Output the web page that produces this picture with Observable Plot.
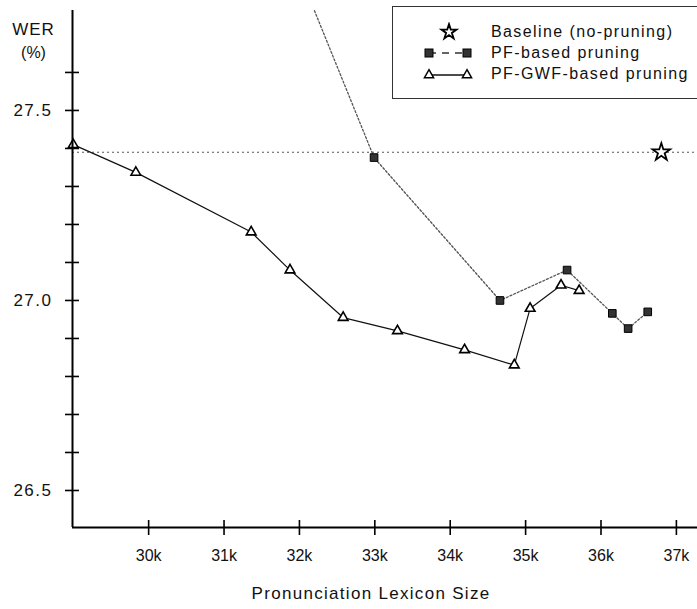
<!DOCTYPE html>
<html>
<head>
<meta charset="utf-8">
<script src="https://cdn.jsdelivr.net/npm/d3@7"></script>
<script src="https://cdn.jsdelivr.net/npm/@observablehq/plot@0.6"></script>
<style>
  html, body { margin: 0; padding: 0; background: #fff; }
  #wrap { position: relative; width: 697px; height: 609px; font-family: "Liberation Sans", Arial, sans-serif; }
  #legend { position: absolute; left: 392px; top: 6px; width: 320px; height: 93px; border: 1px solid #333; border-right: none; background: #fff; box-sizing: border-box; }
  .row { position: absolute; left: 0; height: 20px; }
  .row svg { position: absolute; left: 0; top: 0; }
  .row span { position: absolute; left: 98px; top: 1px; font-size: 16px; letter-spacing: 1.4px; white-space: nowrap; color: #111; }
</style>
</head>
<body>
<div id="wrap"></div>
<script>
// ---- data ----
const lexiconTicks = [30000, 31000, 32000, 33000, 34000, 35000, 36000, 37000];
const werTicks = [26.5, 26.6, 26.7, 26.8, 26.9, 27.0, 27.1, 27.2, 27.3, 27.4, 27.5, 27.6];
const werLabels = [26.5, 27.0, 27.5];

const baselineSize = [36800];
const baselineWER = [27.39];

const pfSize = [32000, 32990, 34660, 35550, 36150, 36360, 36620];
const pfWER  = [27.86, 27.376, 27.0, 27.08, 26.966, 26.926, 26.97];

const gwfSize = [29000, 29830, 31360, 31875, 32580, 33300, 34190, 34850, 35060, 35470, 35710];
const gwfWER  = [27.41, 27.337, 27.18, 27.08, 26.955, 26.92, 26.87, 26.83, 26.979, 27.04, 27.026];

const legendLabels = ["Baseline (no-pruning)", "PF-based pruning", "PF-GWF-based pruning"];

// ---- build tables ----
const pf = pfSize.map((x, i) => ({x, y: pfWER[i]}));
const gwf = gwfSize.map((x, i) => ({x, y: gwfWER[i]}));
const base = baselineSize.map((x, i) => ({x, y: baselineWER[i]}));

const xMin = 28990, xMax = 37280, yMin = 26.4026, yMax = 27.763;

const chart = Plot.plot({
  width: 697,
  height: 609,
  marginLeft: 72,
  marginRight: 0,
  marginTop: 10,
  marginBottom: 82,
  style: { fontFamily: "Liberation Sans, Arial, sans-serif", fontSize: "16px", color: "#111", background: "white", overflow: "visible" },
  x: { domain: [xMin, xMax] },
  y: { domain: [yMin, yMax] },
  marks: [
    Plot.ruleY(baselineWER, { stroke: "#555", strokeWidth: 1.2, strokeDasharray: "2,3" }),
    Plot.line(pf, { x: "x", y: "y", stroke: "#555", strokeWidth: 1.3, strokeDasharray: "2,2", clip: true }),
    Plot.line(gwf, { x: "x", y: "y", stroke: "#111", strokeWidth: 1.2, clip: true }),
    Plot.dot(pf, { x: "x", y: "y", symbol: "square", r: 4.3, fill: "#333", stroke: "#000", strokeWidth: 1, clip: true }),
    Plot.dot(gwf, { x: "x", y: "y", symbol: "triangle", r: 3.6, fill: "white", stroke: "#000", strokeWidth: 1.6 }),
    Plot.dot(base, { x: "x", y: "y", symbol: "star", r: 5.5, fill: "white", stroke: "#000", strokeWidth: 1.8 }),
    Plot.ruleX([xMin], { stroke: "#000", strokeWidth: 2 }),
    Plot.ruleY([yMin], { stroke: "#000", strokeWidth: 2 }),
    Plot.axisY(werTicks, { tickSize: 14, dx: 7, text: null, stroke: "#000", strokeWidth: 1.6, label: null }),
    Plot.axisY(werLabels, { tickSize: 0, tickPadding: 20, tickFormat: d3.format(".1f"), fontSize: 17, fill: "#111", label: null }),
    Plot.axisX(lexiconTicks, { tickSize: 15, dy: -7, text: null, stroke: "#000", strokeWidth: 1.6, label: null }),
    Plot.axisX(lexiconTicks, { tickSize: 0, tickPadding: 22, tickFormat: d => d / 1000 + "k", fontSize: 16, fill: "#111", label: null }),
    Plot.text(["WER"], { text: d => d, frameAnchor: "top-left", textAnchor: "middle", dx: -39, dy: 12, fontSize: 17, fill: "#111" }),
    Plot.text(["(%)"], { text: d => d, frameAnchor: "top-left", textAnchor: "middle", dx: -39, dy: 36, fontSize: 16, fill: "#111" }),
    Plot.text(["Pronunciation Lexicon Size"], { text: d => d, frameAnchor: "bottom", dx: -14, dy: 71, fontSize: 17, fill: "#111" })
  ]
});

// letter spacing to mimic the wide original typeface
d3.select(chart).selectAll("text").each(function () {
  const t = this.textContent;
  if (t === "Pronunciation Lexicon Size") this.setAttribute("letter-spacing", "1.3");
  else if (/^\d\d\.\d$/.test(t)) this.setAttribute("letter-spacing", "1.5");
  else if (t === "WER") this.setAttribute("letter-spacing", "1");
});

const wrap = document.getElementById("wrap");
wrap.appendChild(chart);

// ---- legend ----
const legend = document.createElement("div");
legend.id = "legend";
const rowsTop = [15, 36, 57];
const symbols = [
  `<svg width="100" height="20"><path transform="translate(56,10)" d="${d3.symbol(d3.symbolStar, 70)()}" fill="white" stroke="#000" stroke-width="1.8"/></svg>`,
  `<svg width="100" height="20"><line x1="36" y1="10" x2="74" y2="10" stroke="#333" stroke-width="1.5" stroke-dasharray="7,6"/><rect x="32" y="6" width="8" height="8" fill="#333" stroke="#000"/><rect x="70" y="6" width="8" height="8" fill="#333" stroke="#000"/></svg>`,
  `<svg width="100" height="20"><line x1="36" y1="11" x2="74" y2="11" stroke="#111" stroke-width="1.3"/><path transform="translate(36,11)" d="${d3.symbol(d3.symbolTriangle, 36)()}" fill="white" stroke="#000" stroke-width="1.5"/><path transform="translate(74,11)" d="${d3.symbol(d3.symbolTriangle, 36)()}" fill="white" stroke="#000" stroke-width="1.5"/></svg>`
];
legendLabels.forEach((label, i) => {
  const row = document.createElement("div");
  row.className = "row";
  row.style.top = rowsTop[i] + "px";
  row.innerHTML = symbols[i] + `<span>${label}</span>`;
  legend.appendChild(row);
});
wrap.appendChild(legend);
</script>
</body>
</html>
